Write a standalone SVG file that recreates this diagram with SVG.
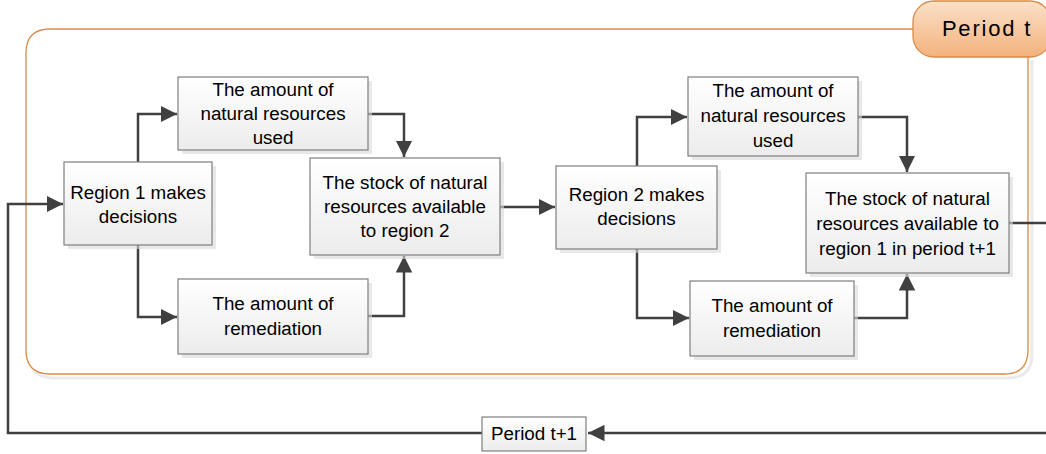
<svg xmlns="http://www.w3.org/2000/svg" width="1046" height="454" viewBox="0 0 1046 454">
<defs>
<linearGradient id="boxg" x1="0" y1="0" x2="0" y2="1">
<stop offset="0" stop-color="#ffffff"/>
<stop offset="1" stop-color="#ececec"/>
</linearGradient>
<linearGradient id="tabg" x1="0" y1="0" x2="0" y2="1">
<stop offset="0" stop-color="#fbe0c8"/>
<stop offset="1" stop-color="#f3b27c"/>
</linearGradient>
<marker id="arr" viewBox="0 0 10 10" refX="10" refY="5" markerWidth="6.6" markerHeight="6.8" markerUnits="strokeWidth" orient="auto">
<path d="M0,0 L10,5 L0,10 z" fill="#404040"/>
</marker>
</defs>
<style>
.box{fill:url(#boxg);stroke:#7f7f7f;stroke-width:1.2}
.sh{fill:#d9d9d9;opacity:0.6}
.t{font-family:"Liberation Sans",Arial,sans-serif;font-size:18.8px;fill:#000;text-anchor:middle}
.c{fill:none;stroke:#404040;stroke-width:2.5}
</style>
<g id="container">
<path d="M30,56 L30,354 Q30,378 54,378 L1008,378 Q1032,378 1032,354 L1032,60" fill="none" stroke="#ebebeb" stroke-width="3"/>
<path d="M50,29 L913,29 M1028,57 L1028,350 Q1028,374 1004,374 L50,374 Q26,374 26,350 L26,53 Q26,29 50,29" fill="#ffffff" stroke="#d98a46" stroke-width="1.3"/>
</g>
<g id="period-t">
<rect x="913" y="1" width="138" height="56" rx="21" fill="url(#tabg)" stroke="#d98a46" stroke-width="1.3"/>
<text x="987" y="36" font-family="Liberation Sans,Arial,sans-serif" font-size="22" letter-spacing="1.8" text-anchor="middle" fill="#000">Period t</text>
</g>
<g id="connectors">
<path class="c" d="M1046,433 L588,433" marker-end="url(#arr)"/>
<path class="c" d="M482,433 L8,433 L8,204 L63,204" marker-end="url(#arr)"/>
<path class="c" d="M1009,223 L1046,223"/>
<path class="c" d="M138,162 L138,114 L177,114" marker-end="url(#arr)"/>
<path class="c" d="M138,245 L138,317 L177,317" marker-end="url(#arr)"/>
<path class="c" d="M368,114 L404,114 L404,157" marker-end="url(#arr)"/>
<path class="c" d="M368,316 L404,316 L404,256" marker-end="url(#arr)"/>
<path class="c" d="M500,207 L555,207" marker-end="url(#arr)"/>
<path class="c" d="M637,166 L637,117 L687,117" marker-end="url(#arr)"/>
<path class="c" d="M637,249 L637,318 L689,318" marker-end="url(#arr)"/>
<path class="c" d="M858,117 L907,117 L907,172" marker-end="url(#arr)"/>
<path class="c" d="M854,318 L907,318 L907,274" marker-end="url(#arr)"/>
</g>
<g id="used1">
<rect class="sh" x="182" y="81" width="190" height="73"/>
<rect class="box" x="178" y="77" width="190" height="73"/>
<text class="t" x="273" y="96">The amount of</text>
<text class="t" x="273" y="120">natural resources</text>
<text class="t" x="273" y="144">used</text>
</g>
<g id="region1">
<rect class="sh" x="68" y="166" width="148" height="83"/>
<rect class="box" x="64" y="162" width="148" height="83"/>
<text class="t" x="138" y="199">Region 1 makes</text>
<text class="t" x="138" y="223">decisions</text>
</g>
<g id="remed1">
<rect class="sh" x="182" y="283" width="190" height="75"/>
<rect class="box" x="178" y="279" width="190" height="75"/>
<text class="t" x="273" y="310">The amount of</text>
<text class="t" x="273" y="335">remediation</text>
</g>
<g id="stock1">
<rect class="sh" x="314" y="162" width="190" height="97"/>
<rect class="box" x="310" y="158" width="190" height="97"/>
<text class="t" x="405" y="189">The stock of natural</text>
<text class="t" x="405" y="213">resources available</text>
<text class="t" x="405" y="237">to region 2</text>
</g>
<g id="region2">
<rect class="sh" x="560" y="170" width="161" height="83"/>
<rect class="box" x="556" y="166" width="161" height="83"/>
<text class="t" x="636.5" y="201">Region 2 makes</text>
<text class="t" x="636.5" y="225">decisions</text>
</g>
<g id="used2">
<rect class="sh" x="692" y="81" width="170" height="79"/>
<rect class="box" x="688" y="77" width="170" height="79"/>
<text class="t" x="773" y="97">The amount of</text>
<text class="t" x="773" y="122">natural resources</text>
<text class="t" x="773" y="147">used</text>
</g>
<g id="stock2">
<rect class="sh" x="810" y="177" width="203" height="100"/>
<rect class="box" x="806" y="173" width="203" height="100"/>
<text class="t" x="907.5" y="205">The stock of natural</text>
<text class="t" x="907.5" y="230">resources available to</text>
<text class="t" x="907.5" y="255">region 1 in period t+1</text>
</g>
<g id="remed2">
<rect class="sh" x="694" y="285" width="164" height="75"/>
<rect class="box" x="690" y="281" width="164" height="75"/>
<text class="t" x="772" y="312">The amount of</text>
<text class="t" x="772" y="337">remediation</text>
</g>
<g id="period-t1">
<rect class="box" x="482" y="417" width="104" height="34"/>
<text class="t" x="534" y="440">Period t+1</text>
</g>
</svg>
